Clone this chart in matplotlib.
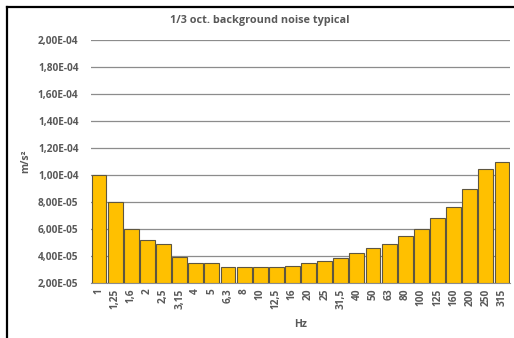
import matplotlib
matplotlib.use("Agg")
import matplotlib.pyplot as plt
from matplotlib.ticker import FuncFormatter, MultipleLocator
from matplotlib.lines import Line2D

bands = ["1", "1,25", "1,6", "2", "2,5", "3,15", "4", "5", "6,3", "8", "10", "12,5",
         "16", "20", "25", "31,5", "40", "50", "63", "80", "100", "125", "160",
         "200", "250", "315"]
noise = [1.00e-4, 8.0e-5, 6.0e-5, 5.15e-5, 4.9e-5, 3.95e-5, 3.45e-5, 3.45e-5,
         3.2e-5, 3.2e-5, 3.2e-5, 3.2e-5, 3.25e-5, 3.45e-5, 3.6e-5, 3.85e-5,
         4.2e-5, 4.6e-5, 4.9e-5, 5.45e-5, 6.0e-5, 6.8e-5, 7.65e-5, 8.95e-5,
         1.045e-4, 1.095e-4]

plt.rcParams['font.family'] = ['Open Sans', 'DejaVu Sans']
grey = '#595959'

fig = plt.figure(figsize=(5.14, 3.38), dpi=100)
ax = fig.add_axes([91 / 514, 55 / 338, 419 / 514, 243 / 338])

x = range(len(bands))
ax.bar(x, [v - 2e-5 for v in noise], bottom=2e-5, width=0.92,
       color='#FFC000', edgecolor='#5e5640', linewidth=0.8, zorder=3)

ax.set_ylim(2e-5, 2e-4)
ax.set_xlim(-0.5, len(bands) - 0.5)
ax.yaxis.set_major_locator(MultipleLocator(2e-5))
ax.yaxis.set_major_formatter(FuncFormatter(lambda v, p: f"{v:.2E}".replace('.', ',')))
ax.grid(axis='y', color='#8c8c8c', linewidth=0.9, zorder=0)
for s in ['top', 'right', 'left']:
    ax.spines[s].set_visible(False)
ax.spines['bottom'].set_color('#8c8c8c')
ax.tick_params(axis='both', length=0, colors=grey, labelsize=7.3)
ax.tick_params(axis='y', pad=9)
ax.tick_params(axis='x', pad=4)
ax.set_xticks(list(x))
ax.set_xticklabels(bands, rotation=90, fontweight='bold')
for t in ax.get_yticklabels():
    t.set_fontweight('bold')

ax.set_ylabel("m/s²", color=grey, fontsize=7.5, fontweight='bold', labelpad=5)
ax.set_xlabel("Hz", color=grey, fontsize=7.5, fontweight='bold', labelpad=7)
fig.text(0.506, 1 - 20 / 338, "1/3 oct. background noise typical", color=grey,
         fontsize=7.8, fontweight='bold', ha='center', va='center')

# frame of the surrounding box
fig.add_artist(Line2D([7 / 514, 7 / 514], [0, 1 - 7 / 338], color='black', linewidth=1.6))
fig.add_artist(Line2D([7 / 514, 1], [1 - 7 / 338, 1 - 7 / 338], color='black', linewidth=1.6))

fig.savefig("out.png", dpi=100)
